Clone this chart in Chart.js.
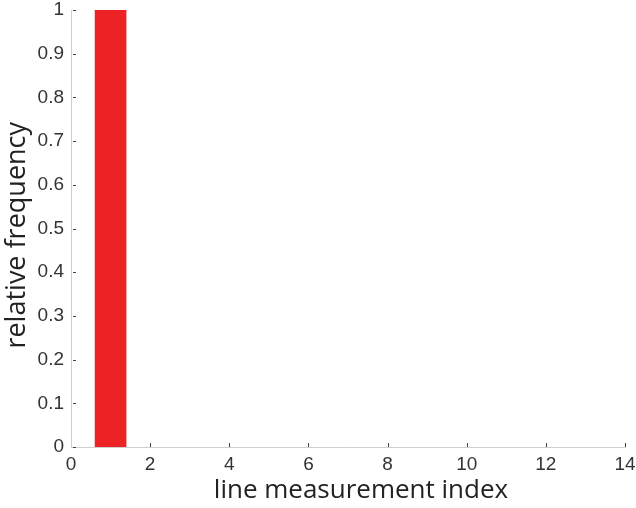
<!DOCTYPE html>
<html lang="en">
<head>
  <meta charset="UTF-8" />
  <script src="https://cdn.jsdelivr.net/npm/chart.js@4"></script>
  <style>
    html, body { margin: 0; padding: 0; background: #fff; }
    #wrap { width: 636px; height: 508px; }
  </style>
</head>
<body>
  <div id="wrap"><canvas id="hist"></canvas></div>
  <script>
    // histogram bins (line measurement index) and relative frequency
    let bins = [1, 2, 3, 4, 5, 6, 7, 8, 9, 10, 11, 12, 13];
    let freq = [1, 0, 0, 0, 0, 0, 0, 0, 0, 0, 0, 0, 0];
    let xTicks = [0, 2, 4, 6, 8, 10, 12, 14];
    let yTicks = [0, 0.1, 0.2, 0.3, 0.4, 0.5, 0.6, 0.7, 0.8, 0.9, 1];

    let points = [];
    for (let i = 0; i < bins.length; i++) {
      points.push({ x: bins[i], y: freq[i] });
    }

    // small inward tick marks like the original plot
    const innerTicks = {
      id: 'innerTicks',
      afterDraw(chart) {
        const ctx = chart.ctx;
        const xs = chart.scales.x, ys = chart.scales.y;
        ctx.save();
        ctx.strokeStyle = '#444';
        ctx.lineWidth = 1;
        ctx.beginPath();
        xTicks.forEach(v => {
          if (v === 0) return;
          let px = Math.round(xs.getPixelForValue(v)) + 0.5;
          ctx.moveTo(px, ys.bottom);
          ctx.lineTo(px, ys.bottom - 4);
        });
        yTicks.forEach(v => {
          let py = Math.round(ys.getPixelForValue(v)) + 0.5;
          ctx.moveTo(xs.left + 2, py);
          ctx.lineTo(xs.left + 5, py);
        });
        ctx.stroke();
        ctx.restore();
      }
    };

    const ctx = document.getElementById('hist').getContext('2d');
    const chart = new Chart(ctx, {
      type: 'bar',
      data: {
        datasets: [{
          data: points,
          backgroundColor: '#ed2224',
          borderWidth: 0,
          barPercentage: 0.8,
          categoryPercentage: 1
        }]
      },
      options: {
        responsive: true,
        maintainAspectRatio: false,
        animation: false,
        layout: { padding: { top: 10, right: 11, left: 0, bottom: 0 } },
        plugins: { legend: { display: false }, tooltip: { enabled: false } },
        scales: {
          x: {
            type: 'linear',
            min: 0,
            max: 14,
            offset: false,
            afterBuildTicks: s => { s.ticks = xTicks.map(v => ({ value: v })); },
            afterFit: s => { s.height = 61; s.paddingLeft = 0; s.paddingRight = 0; },
            grid: { display: false, drawTicks: false },
            border: { display: true, color: '#cfcfcf', width: 1 },
            ticks: {
              padding: 6,
              maxRotation: 0,
              color: '#333',
              font: { family: 'Liberation Sans, Arial', size: 19 }
            },
            title: {
              display: true,
              text: '\u2002\u2002line measurement index',
              color: '#222',
              font: { family: 'Open Sans', size: 26 },
              padding: { top: 0, bottom: 2 }
            }
          },
          y: {
            min: 0,
            max: 1,
            afterBuildTicks: s => { s.ticks = yTicks.map(v => ({ value: v })); },
            afterFit: s => { s.width = 71; s.paddingTop = 0; s.paddingBottom = 0; },
            grid: { display: false, drawTicks: false },
            border: { display: true, color: '#cfcfcf', width: 1 },
            ticks: {
              padding: 7,
              color: '#333',
              font: { family: 'Liberation Sans, Arial', size: 19 },
              callback: v => String(Number(v.toFixed(1)))
            },
            title: {
              display: true,
              text: 'relative frequency\u2002',
              color: '#222',
              font: { family: 'Open Sans', size: 27 },
              padding: { top: 1, bottom: 0 }
            }
          }
        }
      },
      plugins: [innerTicks]
    });
  </script>
</body>
</html>
